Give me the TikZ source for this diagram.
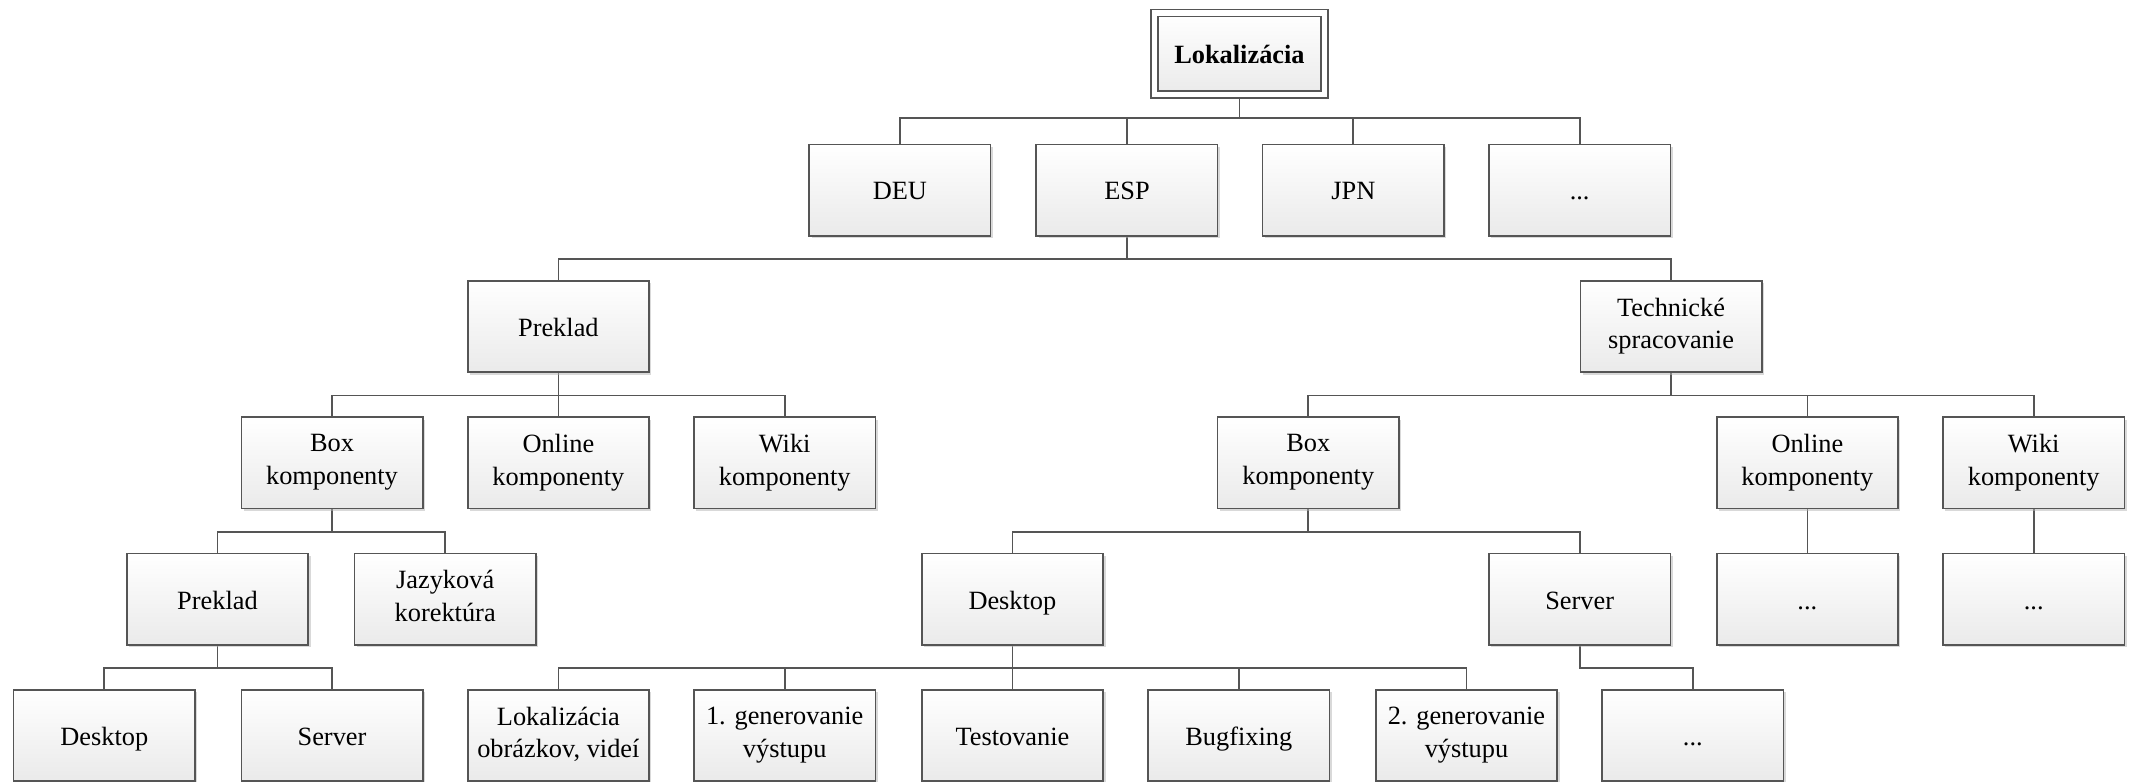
\documentclass[tikz,border=0pt]{standalone}
\usepackage{fontspec}
\setmainfont{Liberation Serif}
\usepackage{tikz}
\usetikzlibrary{shadows, backgrounds}
\definecolor{ciara}{HTML}{555555}
\definecolor{vypln}{HTML}{EAEAEA}
\definecolor{tien}{HTML}{B4B4B4}
\newcommand\podpera{\rule[-0.2\baselineskip]{0pt}{\baselineskip}}
\tikzset{
  every picture/.style={font=\fontsize{11}{13.6}\selectfont},
  blok/.style={draw=ciara, line width=0.7pt, top color=white, bottom color=vypln,
              minimum width=2.66cm, minimum height=1.34cm, inner sep=1pt, align=center,
              execute at begin node=\podpera, execute at end node=\podpera,
              drop shadow={shadow xshift=1pt, shadow yshift=-1pt, fill=tien, opacity=0.5}},
  koren/.style={blok, double=white, double distance=2.2pt, minimum width=2.5cm,
              minimum height=1.2cm, font=\fontsize{11}{13.6}\selectfont\bfseries},
  spoj/.style={draw=ciara, line width=0.7pt},
}

\begin{document}
\begin{tikzpicture}
  \useasboundingbox (0,0) rectangle (31.36,-11.46);
  \node[koren] (lok) at (18.18,-0.79) {Lokalizácia};
  % jazyky
  \node[blok] (deu) at (13.2,-2.79) {DEU};
  \node[blok] (esp) at (16.53,-2.79) {ESP};
  \node[blok] (jpn) at (19.85,-2.79) {JPN};
  \node[blok] (jdal) at (23.17,-2.79) {...};
  % ESP
  \node[blok] (prek) at (8.19,-4.79) {Preklad};
  \node[blok] (tech) at (24.51,-4.79) {Technické\\spracovanie};
  \node[blok] (pbox) at (4.87,-6.79) {Box\\komponenty};
  \node[blok] (ponl) at (8.19,-6.79) {Online\\komponenty};
  \node[blok] (pwiki) at (11.51,-6.79) {Wiki\\komponenty};
  \node[blok] (tbox) at (19.19,-6.79) {Box\\komponenty};
  \node[blok] (tonl) at (26.51,-6.79) {Online\\komponenty};
  \node[blok] (twiki) at (29.83,-6.79) {Wiki\\komponenty};
  \node[blok] (pprek) at (3.19,-8.79) {Preklad};
  \node[blok] (pjaz) at (6.53,-8.79) {Jazyková\\korektúra};
  \node[blok] (tdesk) at (14.85,-8.79) {Desktop};
  \node[blok] (tserv) at (23.17,-8.79) {Server};
  \node[blok] (tonld) at (26.51,-8.79) {...};
  \node[blok] (twikid) at (29.83,-8.79) {...};
  \node[blok] (pdesk) at (1.53,-10.79) {Desktop};
  \node[blok] (pserv) at (4.87,-10.79) {Server};
  \node[blok] (tlok) at (8.19,-10.79) {Lokalizácia\\obrázkov, videí};
  \node[blok] (tgen1) at (11.51,-10.79) {1. generovanie\\výstupu};
  \node[blok] (ttest) at (14.85,-10.79) {Testovanie};
  \node[blok] (tbug) at (18.17,-10.79) {Bugfixing};
  \node[blok] (tgen2) at (21.51,-10.79) {2. generovanie\\výstupu};
  \node[blok] (tservd) at (24.83,-10.79) {...};
  % spoje
  \begin{scope}[on background layer]
    \foreach \a/\b in {lok/deu, lok/esp, lok/jpn, lok/jdal, esp/prek, esp/tech,
        prek/pbox, prek/ponl, prek/pwiki, tech/tbox, tech/tonl, tech/twiki,
        pbox/pprek, pbox/pjaz, tbox/tdesk, tbox/tserv, tonl/tonld, twiki/twikid,
        pprek/pdesk, pprek/pserv, tdesk/tlok, tdesk/tgen1, tdesk/ttest, tdesk/tbug,
        tdesk/tgen2, tserv/tservd}
      \draw[spoj] (\a.south) -- ++(0,-0.33cm) -| (\b.north);
  \end{scope}
\end{tikzpicture}
\end{document}
